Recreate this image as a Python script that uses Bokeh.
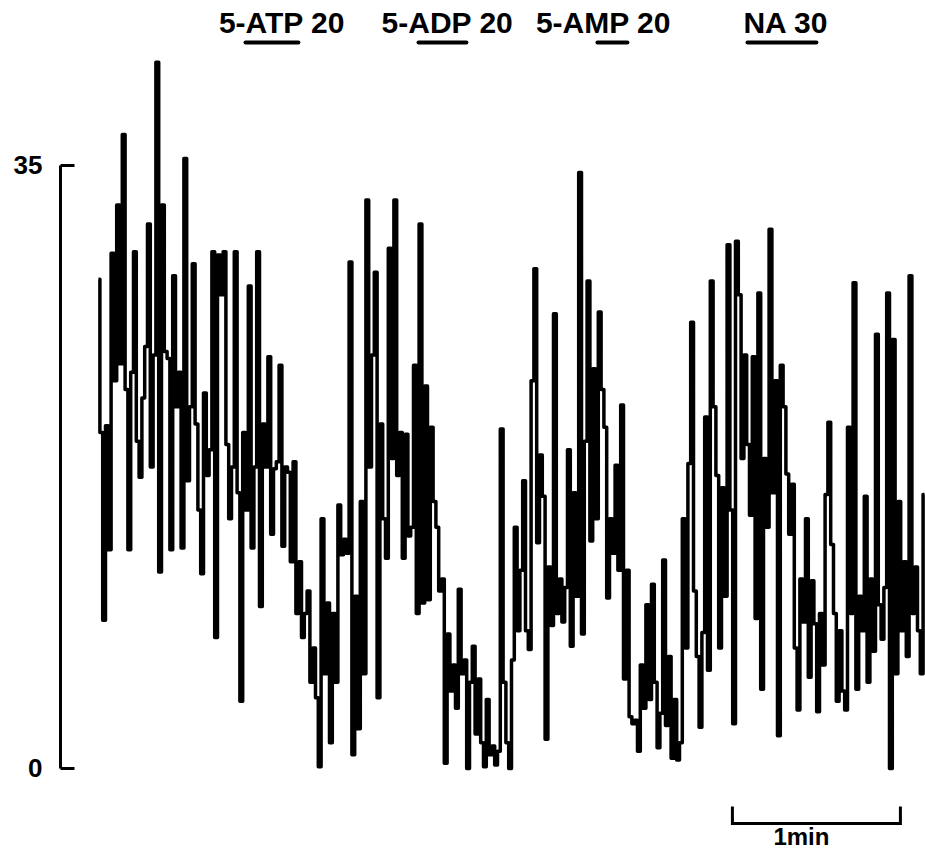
import numpy as np
from bokeh.plotting import figure
from bokeh.models import Range1d, FixedTicker, ColumnDataSource
from bokeh.embed import file_html
from bokeh.resources import INLINE
from bokeh.core.properties import value

# ---- data (rate, spikes/s, one value per second) ----
rate = [
    28.4, 19.5, 8.6, 19.9, 12.7, 29.9, 22.5, 32.7, 23.5, 36.8,
    22.0, 12.7, 23.0, 30.0, 19.0, 16.9, 21.5, 24.5, 31.6, 17.5,
    24.0, 41.0, 11.4, 32.7, 24.2, 23.8, 12.7, 28.6, 21.0, 23.0,
    12.8, 35.4, 16.7, 21.0, 29.3, 20.0, 15.0, 11.3, 21.8, 17.0,
    18.5, 30.0, 7.6, 29.8, 27.5, 30.0, 18.8, 14.5, 17.5, 30.0,
    16.0, 3.9, 19.5, 15.0, 28.0, 12.8, 17.5, 30.0, 9.4, 20.0,
    17.5, 23.9, 13.6, 17.4, 17.8, 23.4, 12.9, 17.5, 17.2, 12.0,
    17.8, 9.0, 12.0, 7.6, 9.0, 10.3, 5.0, 7.0, 4.1, 0.1,
    14.5, 5.5, 9.6, 1.5, 9.0, 5.0, 15.3, 12.4, 13.3, 12.5,
    29.4, 0.8, 10.0, 2.3, 15.5, 5.5, 33.0, 17.5, 24.0, 28.8,
    4.1, 20.0, 14.5, 12.2, 30.2, 18.0, 33.0, 17.0, 19.5, 12.2,
    19.4, 13.5, 14.0, 23.4, 9.0, 31.6, 9.6, 22.2, 9.8, 19.8,
    15.5, 14.0, 10.3, 11.0, 0.3, 7.8, 4.5, 6.0, 3.5, 10.4,
    5.5, 6.3, 0.0, 5.0, 7.1, 2.0, 5.2, 1.5, 0.1, 4.0,
    0.8, 1.3, 0.2, 1.0, 19.7, 5.0, 1.5, 0.0, 6.3, 14.0,
    8.0, 11.5, 16.7, 8.0, 6.9, 22.5, 29.0, 13.1, 18.2, 15.8,
    1.7, 11.7, 8.3, 26.4, 9.0, 11.0, 8.5, 10.5, 18.5, 7.1,
    16.0, 10.0, 34.6, 7.8, 19.0, 28.3, 13.2, 23.2, 14.5, 26.5,
    22.0, 19.8, 9.9, 14.5, 12.5, 17.6, 11.5, 21.1, 5.2, 11.5,
    3.0, 2.6, 2.8, 1.0, 6.0, 3.5, 9.5, 4.0, 10.7, 5.0,
    1.2, 3.2, 12.1, 2.5, 6.5, 0.6, 4.0, 0.5, 1.5, 14.5,
    7.0, 17.7, 25.9, 10.3, 6.5, 2.4, 7.9, 20.4, 5.7, 28.3,
    21.0, 17.0, 7.0, 16.3, 10.0, 30.4, 15.0, 2.6, 30.6, 27.5,
    18.0, 24.0, 18.8, 14.7, 23.9, 8.7, 27.6, 4.6, 18.0, 14.0,
    31.3, 16.0, 22.5, 1.9, 23.4, 21.0, 17.1, 13.6, 16.5, 7.0,
    3.4, 11.0, 8.5, 14.5, 5.3, 10.9, 8.4, 3.3, 9.0, 6.0,
    15.9, 20.1, 13.0, 9.0, 3.9, 8.0, 4.5, 3.4, 19.8, 9.0,
    28.2, 4.6, 10.0, 8.0, 15.8, 5.0, 11.0, 6.8, 25.2, 9.5,
    7.5, 10.5, 27.6, 0.0, 24.9, 5.5, 15.5, 8.0, 12.0, 6.5,
    28.6, 9.0, 11.7, 8.0, 5.5, 15.9,
]
sample_interval_s = 1.0
time_s = np.arange(len(rate)) * sample_interval_s

drug_labels = ["5-ATP 20", "5-ADP 20", "5-AMP 20", "NA 30"]
drug_start_s = [52.5, 114.3, 178.2, 231.8]
drug_end_s = [71.4, 131.4, 188.9, 256.4]

y_ticks = [0, 35]
scale_bar_s = 60
scale_bar_label = "1min"
scale_bar_start_s = 226.4

# ---- figure ----
FONT = value("Liberation Sans")

p = figure(width=925, height=854,
           x_range=Range1d(-13.57, 295.36), y_range=Range1d(-4.992, 44.577),
           output_backend="svg", toolbar_location=None,
           x_axis_location=None, min_border=0, min_border_left=60,
           outline_line_color=None, background_fill_color="white",
           border_fill_color="white")
p.grid.visible = False

ax = p.yaxis[0]
ax.ticker = FixedTicker(ticks=y_ticks)
ax.bounds = (0, 35)
ax.axis_line_width = 3
ax.axis_line_color = "black"
ax.major_tick_line_width = 3
ax.major_tick_line_color = "black"
ax.major_tick_in = 14
ax.major_tick_out = 0
ax.minor_tick_line_color = None
ax.major_label_standoff = 18
ax.major_label_text_font = "Liberation Sans"
ax.major_label_text_font_style = "bold"
ax.major_label_text_font_size = "26px"
ax.major_label_text_color = "black"

# trace
p.step(time_s, rate, mode="center", line_color="black", line_width=3.5,
       line_join="round")

# drug application bars and labels
mids = [(a + b) / 2 for a, b in zip(drug_start_s, drug_end_s)]
drug_src = ColumnDataSource(dict(x0=drug_start_s, x1=drug_end_s, xm=mids,
                                 label=drug_labels,
                                 dx=[10, 5, -9, 4]))
p.segment(x0="x0", x1="x1", y0=42.14, y1=42.14, source=drug_src,
          line_color="black", line_width=4, line_cap="round")
p.text(x="xm", y=43.30, text="label", x_offset="dx", source=drug_src,
       text_align="center", text_baseline="alphabetic",
       text_font=FONT, text_font_style="bold", text_font_size="30px",
       text_color="black")

# time scale bar
sb0 = scale_bar_start_s
sb1 = scale_bar_start_s + scale_bar_s
p.line([sb0, sb0, sb1, sb1], [-2.21, -3.19, -3.19, -2.21],
       line_color="black", line_width=3, line_join="miter")
p.text(x=[(sb0 + sb1) / 2], y=[-3.95], text=[scale_bar_label], x_offset=-15,
       text_align="center", text_baseline="alphabetic",
       text_font=FONT, text_font_style="bold", text_font_size="24px",
       text_color="black")

open("out.html", "w").write(file_html(p, INLINE))
